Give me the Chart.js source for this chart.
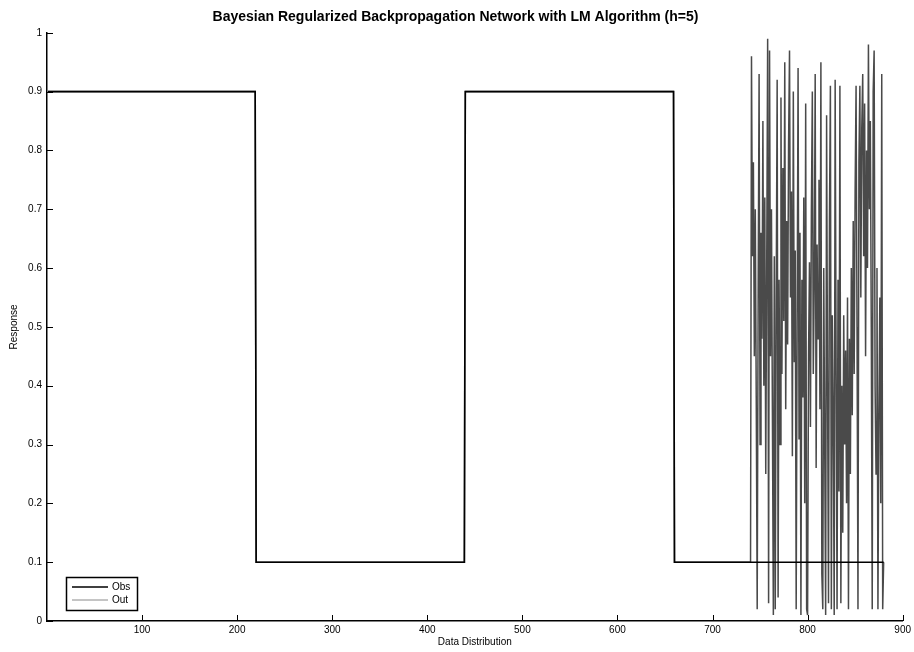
<!DOCTYPE html>
<html>
<head>
<meta charset="utf-8">
<script src="https://cdn.jsdelivr.net/npm/chart.js@4.4.1/dist/chart.umd.min.js"></script>
<style>
  html, body { margin: 0; padding: 0; background: #fff; }
  canvas { display: block; }
</style>
</head>
<body>
<canvas id="bayesChart" width="914" height="652"></canvas>
<script>
// observed target: step levels at segment boundaries
const obsX = [1, 219, 220, 439, 440, 659, 660, 880];
const obsY = [0.9, 0.9, 0.1, 0.1, 0.9, 0.9, 0.1, 0.1];

// network output: follows the target, then scatters from 741 to 880
const outStartX = [1, 219, 220, 439, 440, 659, 660, 740];
const outStartY = [0.9, 0.9, 0.1, 0.1, 0.9, 0.9, 0.1, 0.1];
const outTailFirstX = 741;
const outTailY = [
  0.96, 0.62, 0.78, 0.45, 0.70, 0.38, 0.02, 0.55, 0.93, 0.30,
  0.66, 0.48, 0.85, 0.40, 0.72, 0.25, 0.60, 0.99, 0.03, 0.97,
  0.45, 0.70, 0.35, 0.01, 0.62, 0.02, 0.55, 0.92, 0.04, 0.58,
  0.30, 0.89, 0.42, 0.77, 0.51, 0.95, 0.36, 0.68, 0.47, 0.81,
  0.97, 0.55, 0.73, 0.28, 0.90, 0.44, 0.63, 0.02, 0.50, 0.94,
  0.31, 0.66, 0.01, 0.58, 0.38, 0.72, 0.20, 0.88, 0.02, 0.01,
  0.45, 0.61, 0.33, 0.70, 0.90, 0.42, 0.57, 0.93, 0.26, 0.64,
  0.48, 0.75, 0.36, 0.95, 0.08, 0.02, 0.60, 0.30, 0.01, 0.86,
  0.40, 0.03, 0.68, 0.91, 0.02, 0.52, 0.35, 0.01, 0.92, 0.44,
  0.02, 0.58, 0.22, 0.91, 0.03, 0.40, 0.15, 0.52, 0.30, 0.46,
  0.20, 0.55, 0.02, 0.48, 0.25, 0.60, 0.35, 0.68, 0.42, 0.73,
  0.91, 0.50, 0.02, 0.78, 0.91, 0.55, 0.84, 0.93, 0.62, 0.88,
  0.45, 0.80, 0.60, 0.98, 0.70, 0.85, 0.50, 0.02, 0.90, 0.97,
  0.40, 0.25, 0.60, 0.02, 0.35, 0.55, 0.20, 0.93, 0.02, 0.10
];

const xTicks = [100, 200, 300, 400, 500, 600, 700, 800, 900];
const yTicks = [0, 0.1, 0.2, 0.3, 0.4, 0.5, 0.6, 0.7, 0.8, 0.9, 1];
const seriesNames = ['Obs', 'Out'];
const titleText = 'Bayesian Regularized Backpropagation Network with LM Algorithm (h=5)';

const obsPoints = obsX.map((x, i) => ({ x: x, y: obsY[i] }));
const outPoints = outStartX.map((x, i) => ({ x: x, y: outStartY[i] }))
  .concat(outTailY.map((y, i) => ({ x: outTailFirstX + i, y: y })));

const FONT = 'Liberation Sans, Arial, sans-serif';
const obsColor = '#000000';
const outColor = '#4a4a4a';

// matlab style ticks pointing into the plot
const inwardTicks = {
  id: 'inwardTicks',
  afterDatasetsDraw(chart) {
    const ctx = chart.ctx;
    const area = chart.chartArea;
    const xs = chart.scales.x;
    const ys = chart.scales.y;
    ctx.save();
    ctx.strokeStyle = '#000';
    ctx.lineWidth = 1;
    ctx.beginPath();
    xTicks.forEach(v => {
      const px = Math.round(xs.getPixelForValue(v)) + 0.5;
      ctx.moveTo(px, area.bottom);
      ctx.lineTo(px, area.bottom - 6);
    });
    yTicks.forEach(v => {
      const py = Math.round(ys.getPixelForValue(v)) + 0.5;
      ctx.moveTo(area.left, py);
      ctx.lineTo(area.left + 6, py);
    });
    ctx.stroke();
    ctx.restore();
  }
};

// boxed legend in the lower left corner of the axes
const boxLegend = {
  id: 'boxLegend',
  afterDraw(chart) {
    const ctx = chart.ctx;
    const area = chart.chartArea;
    const left = area.left + 19;
    const top = area.bottom - 44;
    ctx.save();
    ctx.fillStyle = '#fff';
    ctx.fillRect(left, top, 71, 33);
    ctx.strokeStyle = '#000';
    ctx.lineWidth = 1.5;
    ctx.strokeRect(left + 0.5, top + 0.5, 71, 33);
    ctx.font = '10px ' + FONT;
    ctx.textBaseline = 'middle';
    const colors = [obsColor, '#8a8a8a'];
    seriesNames.forEach((name, i) => {
      const y = top + 10 + i * 13;
      ctx.strokeStyle = colors[i];
      ctx.lineWidth = i === 0 ? 1.5 : 1;
      ctx.beginPath();
      ctx.moveTo(left + 6, y);
      ctx.lineTo(left + 42, y);
      ctx.stroke();
      ctx.fillStyle = '#000';
      ctx.fillText(name, left + 46, y);
    });
    ctx.restore();
  }
};

new Chart(document.getElementById('bayesChart').getContext('2d'), {
  type: 'line',
  data: {
    datasets: [
      {
        label: seriesNames[0],
        data: obsPoints,
        borderColor: obsColor,
        borderWidth: 1.6,
        pointRadius: 0,
        tension: 0,
        order: 1
      },
      {
        label: seriesNames[1],
        data: outPoints,
        borderColor: outColor,
        borderWidth: 1.5,
        pointRadius: 0,
        tension: 0,
        order: 2
      }
    ]
  },
  options: {
    responsive: false,
    animation: false,
    devicePixelRatio: 1,
    layout: { padding: { left: 8, right: 11, top: 0, bottom: 4 } },
    plugins: {
      legend: { display: false },
      tooltip: { enabled: false },
      title: {
        display: true,
        text: titleText,
        color: '#000',
        font: { family: FONT, size: 14, weight: 'bold' },
        padding: { top: 9, bottom: 7 }
      }
    },
    scales: {
      x: {
        type: 'linear',
        min: 0,
        max: 900,
        afterBuildTicks: axis => { axis.ticks = xTicks.map(v => ({ value: v })); },
        afterFit: axis => { axis.height = 27; },
        grid: { drawOnChartArea: false, drawTicks: false },
        border: { display: true, color: '#000', width: 1.5 },
        ticks: {
          color: '#000',
          font: { family: FONT, size: 10 },
          padding: 3,
          maxRotation: 0,
          autoSkip: false
        },
        title: {
          display: true,
          text: 'Data Distribution',
          color: '#000',
          font: { family: FONT, size: 10 },
          padding: { top: 0, bottom: 0 }
        }
      },
      y: {
        type: 'linear',
        min: 0,
        max: 1,
        afterBuildTicks: axis => { axis.ticks = yTicks.map(v => ({ value: v })); },
        afterFit: axis => { axis.width = 39; },
        grid: { drawOnChartArea: false, drawTicks: false },
        border: { display: true, color: '#000', width: 1.5 },
        ticks: {
          color: '#000',
          font: { family: FONT, size: 10 },
          padding: 5,
          autoSkip: false,
          callback: v => String(Number(v.toFixed(1)))
        },
        title: {
          display: true,
          text: 'Response',
          color: '#000',
          font: { family: FONT, size: 10 },
          padding: { top: 0, bottom: 0 }
        }
      }
    }
  },
  plugins: [inwardTicks, boxLegend]
});
</script>
</body>
</html>
